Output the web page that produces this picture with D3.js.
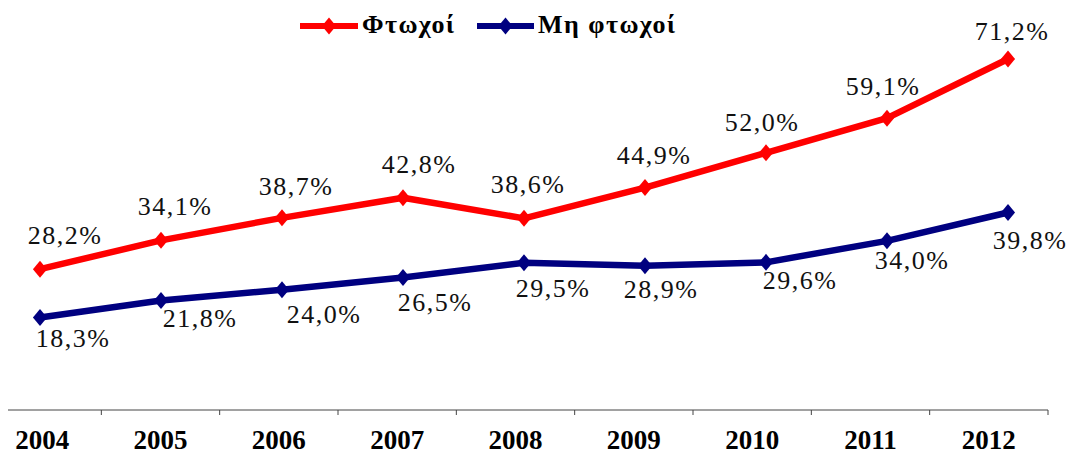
<!DOCTYPE html>
<html>
<head>
<meta charset="utf-8">
<script src="https://cdn.jsdelivr.net/npm/d3@7"></script>
<style>
  body { margin: 0; background: #fff; }
  svg { display: block; }
  text { font-family: "Liberation Serif", "Times New Roman", serif; }
</style>
</head>
<body>
<svg></svg>
<script>
var years = ["2004", "2005", "2006", "2007", "2008", "2009", "2010", "2011", "2012"];
var poor = [28.2, 34.1, 38.7, 42.8, 38.6, 44.9, 52.0, 59.1, 71.2];
var nonPoor = [18.3, 21.8, 24.0, 26.5, 29.5, 28.9, 29.6, 34.0, 39.8];
var seriesNames = ["Φτωχοί", "Μη φτωχοί"];

var svgWidth = 1073, svgHeight = 455;

// hand placed label nudges, as in the original chart
var poorNudge = [[25, -25], [14, -25], [14, -23], [16, -25], [4, -25], [9, -24], [-4, -22], [-4, -23], [4, -19]];
var nonPoorNudge = [[33, 29], [39, 27], [42, 33], [32, 34], [29, 34], [16, 32], [34, 27], [25, 28], [22, 37]];

var svg = d3.select("svg")
    .attr("width", svgWidth)
    .attr("height", svgHeight);

// the scanned chart has labels and markers on slightly different grids
var xBand = d3.scaleBand().domain(years).range([-17, 1048]);
var xPoint = d3.scalePoint().domain(years).range([40, 1008]);
var y = d3.scaleLinear().domain([0, 80]).range([407, 16]);

var fmt = function(v) { return v.toFixed(1).replace(".", ",") + "%"; };

// x axis
var axisY = 410;
svg.append("line")
    .attr("x1", 8).attr("x2", 1048)
    .attr("y1", axisY).attr("y2", axisY)
    .style("stroke", "#444").style("stroke-width", 1);

svg.selectAll(".tick")
    .data(years)
    .enter()
    .append("line")
    .attr("x1", function(d) { return xBand(d) + xBand.bandwidth(); })
    .attr("x2", function(d) { return xBand(d) + xBand.bandwidth(); })
    .attr("y1", axisY).attr("y2", axisY + 5)
    .style("stroke", "#444").style("stroke-width", 1);

svg.selectAll(".year")
    .data(years)
    .enter()
    .append("text")
    .attr("x", function(d) { return xBand(d) + xBand.bandwidth() / 2; })
    .attr("y", 449)
    .attr("text-anchor", "middle")
    .style("font-weight", "bold")
    .style("font-size", "27px")
    .text(function(d) { return d; });

var line = d3.line()
    .x(function(d, i) { return xPoint(years[i]); })
    .y(function(d) { return y(d); });

var diamond = d3.symbol().type(d3.symbolSquare).size(100);

function drawSeries(values, color, nudge) {
    svg.append("path")
        .datum(values)
        .attr("d", line)
        .style("fill", "none")
        .style("stroke", color)
        .style("stroke-width", 6.5)
        .style("stroke-linejoin", "round");

    svg.selectAll(null)
        .data(values)
        .enter()
        .append("path")
        .attr("d", diamond)
        .attr("transform", function(d, i) {
            return "translate(" + xPoint(years[i]) + "," + y(d) + ") scale(1,1.2) rotate(45)";
        })
        .style("fill", color);

    svg.selectAll(null)
        .data(values)
        .enter()
        .append("text")
        .attr("x", function(d, i) { return xPoint(years[i]) + nudge[i][0]; })
        .attr("y", function(d, i) { return y(d) + nudge[i][1]; })
        .attr("text-anchor", "middle")
        .style("font-size", "26px")
        .style("letter-spacing", "1.5px")
        .style("fill", "#111")
        .text(fmt);
}

drawSeries(poor, "#ff0000", poorNudge);
drawSeries(nonPoor, "#000080", nonPoorNudge);

// legend
var legend = [
    { name: seriesNames[0], color: "#ff0000", x1: 300, x2: 358, tx: 362 },
    { name: seriesNames[1], color: "#000080", x1: 477, x2: 534, tx: 538 }
];

legend.forEach(function(l) {
    svg.append("line")
        .attr("x1", l.x1).attr("x2", l.x2)
        .attr("y1", 26).attr("y2", 26)
        .style("stroke", l.color).style("stroke-width", 6);
    svg.append("path")
        .attr("d", diamond)
        .attr("transform", "translate(" + ((l.x1 + l.x2) / 2) + ",26) scale(1,1.2) rotate(45)")
        .style("fill", l.color);
    svg.append("text")
        .attr("x", l.tx).attr("y", 33)
        .style("font-weight", "bold")
        .style("font-size", "26px")
        .style("letter-spacing", "1.5px")
        .text(l.name);
});
</script>
</body>
</html>
